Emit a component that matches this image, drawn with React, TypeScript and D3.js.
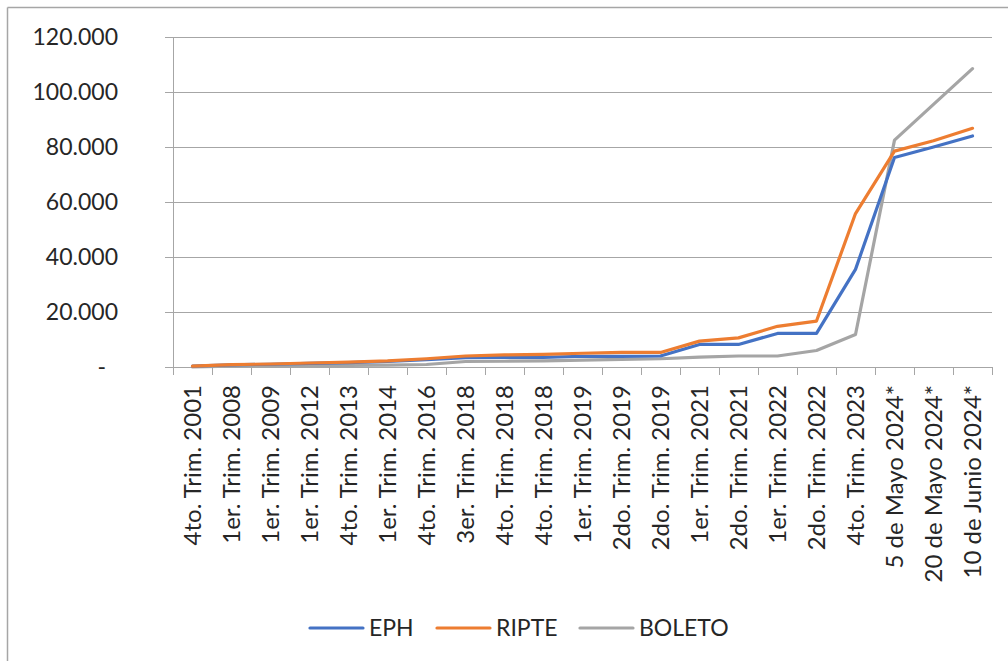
import React from 'react';
import * as d3 from 'd3';

const categories = [
  '4to. Trim. 2001', '1er. Trim. 2008', '1er. Trim. 2009', '1er. Trim. 2012',
  '4to. Trim. 2013', '1er. Trim. 2014', '4to. Trim. 2016', '3er. Trim. 2018',
  '4to. Trim. 2018', '4to. Trim. 2018', '1er. Trim. 2019', '2do. Trim. 2019',
  '2do. Trim. 2019', '1er. Trim. 2021', '2do. Trim. 2021', '1er. Trim. 2022',
  '2do. Trim. 2022', '4to. Trim. 2023', '5 de Mayo 2024*', '20 de Mayo 2024*',
  '10 de Junio 2024*',
];

const eph = [300, 800, 1000, 1300, 1600, 2000, 2700, 3400, 3500, 3500, 3900, 3900, 4000,
  8200, 8200, 12200, 12200, 35500, 76200, 80000, 84000];
const ripte = [300, 850, 1100, 1450, 1800, 2200, 3000, 4000, 4400, 4600, 5000, 5300, 5300,
  9400, 10600, 14800, 16700, 55800, 78500, 82300, 86800];
const boleto = [0, 300, 400, 500, 600, 700, 900, 2000, 2100, 2200, 2500, 2800, 3000,
  3600, 4000, 4000, 6000, 11800, 82500, 95500, 108500];

const yTicks = [0, 20000, 40000, 60000, 80000, 100000, 120000];

const series = [
  { name: 'EPH', values: eph, color: '#4472C4' },
  { name: 'RIPTE', values: ripte, color: '#ED7D31' },
  { name: 'BOLETO', values: boleto, color: '#A5A5A5' },
];

const font = 'Lato, "Liberation Sans", Arial, sans-serif';

export default function App() {
  const width = 1008;
  const height = 661;
  const left = 173, right = 992, top = 37, bottom = 367;

  const x = d3.scaleBand<number>().domain(d3.range(categories.length)).range([left, right]);
  const y = d3.scaleLinear().domain([0, 120000]).range([bottom, top]);

  const fmt = (v: number) => v === 0 ? '-' : d3.format(',.3f')(v / 1000).replace(',', '.');

  const line = d3.line<number>()
    .x((_, i) => x(i)! + x.bandwidth() / 2)
    .y(d => y(d));

  const legendItems = [
    { ...series[0], lx: 310 },
    { ...series[1], lx: 437 },
    { ...series[2], lx: 580 },
  ];

  return (
    <svg width={width} height={height} style={{ position: 'absolute', left: 0, top: 0, background: '#fff' }}
      fontFamily={font}>
      {/* outer chart frame (only top/left visible) */}
      <line x1={7.5} y1={7.5} x2={width} y2={7.5} stroke="#A6A6A6" strokeWidth={1.5} />
      <line x1={7.5} y1={7.5} x2={7.5} y2={height} stroke="#A6A6A6" strokeWidth={1.5} />

      {yTicks.map(t => (
        <g key={t}>
          <line x1={left - 8} x2={right} y1={Math.round(y(t)) + 0.5} y2={Math.round(y(t)) + 0.5}
            stroke="#A6A6A6" strokeWidth={1} />
          <text x={t === 0 ? 106 : 118} y={y(t)} dy="0.36em" textAnchor="end" fontSize={23} fill="#262626">
            {fmt(t)}
          </text>
        </g>
      ))}
      <line x1={left + 0.5} x2={left + 0.5} y1={top} y2={bottom + 8} stroke="#A6A6A6" />
      {d3.range(categories.length + 1).map(i => {
        const tx = Math.round(left + i * x.step()) + 0.5;
        return <line key={i} x1={tx} x2={tx} y1={bottom} y2={bottom + 8} stroke="#A6A6A6" />;
      })}

      {categories.map((c, i) => (
        <text key={i}
          transform={`translate(${x(i)! + x.bandwidth() / 2},${bottom + 18}) rotate(-90)`}
          textAnchor="end" dy="0.36em" fontSize={24} fill="#262626">
          {c}
        </text>
      ))}

      {[series[2], series[0], series[1]].map(s => (
        <path key={s.name} d={line(s.values)!} fill="none" stroke={s.color} strokeWidth={3.2}
          strokeLinejoin="round" strokeLinecap="round" />
      ))}

      {legendItems.map(s => (
        <g key={s.name}>
          <line x1={s.lx} x2={s.lx + 53} y1={628} y2={628} stroke={s.color} strokeWidth={3.2} strokeLinecap="round" />
          <text x={s.lx + 59} y={628} dy="0.36em" fontSize={23} fill="#262626">{s.name}</text>
        </g>
      ))}
    </svg>
  );
}
